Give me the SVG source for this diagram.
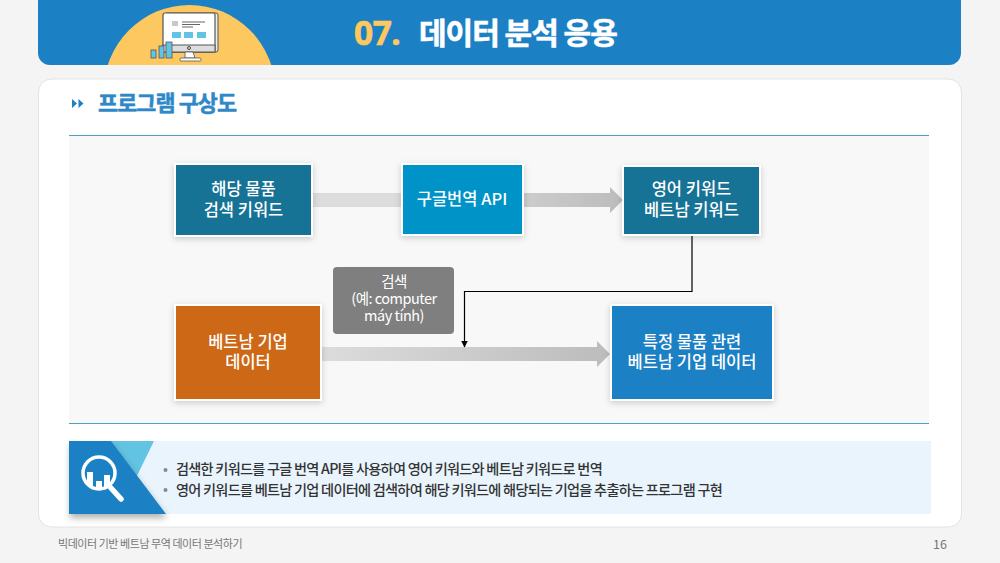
<svg xmlns="http://www.w3.org/2000/svg" width="1000" height="563" viewBox="0 0 1000 563">
<defs>
<linearGradient id="ar1" x1="0" y1="0" x2="1" y2="0"><stop offset="0" stop-color="#cccccc"/><stop offset="1" stop-color="#bcbcbc"/></linearGradient>
<linearGradient id="ar2" x1="0" y1="0" x2="1" y2="0"><stop offset="0" stop-color="#dcdcdc"/><stop offset="1" stop-color="#bcbcbc"/></linearGradient>
<filter id="sh" x="-20%" y="-20%" width="140%" height="140%"><feDropShadow dx="0" dy="2" stdDeviation="3" flood-color="#000" flood-opacity="0.18"/></filter>
<filter id="sh2" x="-20%" y="-20%" width="140%" height="140%"><feDropShadow dx="1" dy="4" stdDeviation="3" flood-color="#000" flood-opacity="0.3"/></filter>
<clipPath id="hd"><rect x="38" y="0" width="923" height="65"/></clipPath>
<clipPath id="lens"><circle cx="99" cy="473" r="15"/></clipPath>
<marker id="tip" markerWidth="8" markerHeight="8" refX="6.500" refY="3.500" orient="auto" markerUnits="userSpaceOnUse"><path d="M0 0L7 3.500L0 7Z" fill="#000"/></marker>
</defs>
<style>
text{font-family:"Noto Sans CJK KR","Noto Sans",sans-serif}
.n{fill:#fff;font-size:16.500px;font-weight:500;text-anchor:middle}
.b{stroke:#fff;stroke-width:2;filter:url(#sh)}
.t{fill:#333;font-size:14.200px;font-weight:500;letter-spacing:-.75px}
</style>
<rect width="1000" height="563" fill="#f4f4f4"/>
<path d="M38 0H961V53a12 12 0 0 1-12 12H50a12 12 0 0 1-12-12Z" fill="#1c80c4"/>
<g id="badge" clip-path="url(#hd)">
<ellipse cx="189.500" cy="92" rx="86" ry="87" fill="#fdc85f"/>
<rect x="165" y="13" width="53" height="39" rx="2" fill="#eee" stroke="#555" stroke-width="1"/>
<rect x="163" y="13" width="52" height="39" rx="2" fill="#fff" stroke="#555" stroke-width="1.200"/>
<rect x="163" y="45" width="52" height="7" fill="#ddd" stroke="#555" stroke-width="1"/>
<rect x="172" y="21" width="6" height="5" fill="#c8c8c8"/>
<path d="M182 22H205M182 24.500H200M182 27H193" stroke="#666" stroke-width="1"/>
<path d="M172 32h9v6h-9zM184 32h9v6h-9zM197 32h9v6h-9z" fill="#63c3e2"/>
<circle cx="189" cy="48" r="1.500" fill="none" stroke="#444"/>
<path d="M185 52h8l2 6h-10Z" fill="#fff" stroke="#555" stroke-width=".8"/>
<rect x="180" y="58" width="21" height="3" rx="1" fill="#fff" stroke="#555" stroke-width=".8"/>
<rect x="151" y="50" width="5" height="8" fill="#63c3e2" stroke="#555" stroke-width=".8"/>
<rect x="159" y="46" width="5" height="12" fill="#63c3e2" stroke="#555" stroke-width=".8"/>
<rect x="166" y="42" width="6" height="16" fill="#63c3e2" stroke="#555" stroke-width=".8"/>
</g>
<text x="354" y="45" font-size="33.500" font-weight="700" fill="#fdc85f" stroke="#fdc85f" stroke-width=".6" style="font-family:'Noto Sans','Noto Sans CJK KR',sans-serif" letter-spacing="-.5">07.</text>
<text x="419" y="44" font-size="30" font-weight="700" fill="#fff" stroke="#fff" stroke-width=".6" letter-spacing="-1">데이터 분석 응용</text>
<rect x="38.500" y="79" width="923" height="448" rx="13" fill="#fff" stroke="#e3e3e3"/>
<path d="M72 99l5 4.500-5 4.500ZM78.500 99l5 4.500-5 4.500Z" fill="#1c80c4"/>
<text x="98" y="111" font-size="21.800" font-weight="700" fill="#2e88c8" stroke="#2e88c8" stroke-width=".5" letter-spacing="-.9">프로그램 구상도</text>
<rect x="69" y="136" width="860" height="288" fill="#f8f8f8"/>
<path d="M69 135.500H929M69 423.500H929" stroke="#4f9fc8" stroke-width="1"/>
<g id="connectors">
<rect x="313" y="193" width="88" height="14" fill="#dcdcdc"/>
<path d="M524 193H610V187L623 200L610 213V207H524Z" fill="url(#ar1)"/>
<path d="M321 347H597V341L610 354L597 367V361H321Z" fill="url(#ar2)"/>
<path d="M692 235V291.500H464.500V347" fill="none" stroke="#000" stroke-width="1.200" marker-end="url(#tip)"/>
</g>
<g id="n1"><rect class="b" x="175" y="164" width="137" height="72" fill="#177396"/><text class="n" y="195"><tspan x="243.500">해당 물품</tspan><tspan x="243.500" dy="21">검색 키워드</tspan></text></g>
<g id="n2"><rect class="b" x="402" y="164" width="121" height="71" fill="#0493c8"/><text class="n" x="462" y="205">구글번역 API</text></g>
<g id="n3"><rect class="b" x="623" y="166" width="137" height="69" fill="#177396"/><text class="n" y="195"><tspan x="691.500">영어 키워드</tspan><tspan x="691.500" dy="21">베트남 키워드</tspan></text></g>
<g id="n4"><rect class="b" x="175" y="305" width="146" height="95" fill="#cd6718"/><text class="n" y="348"><tspan x="248">베트남 기업</tspan><tspan x="248" dy="20">데이터</tspan></text></g>
<g id="n5"><rect class="b" x="611" y="305" width="162" height="95" fill="#1c80c4"/><text class="n" y="348"><tspan x="692">특정 물품 관련</tspan><tspan x="692" dy="20">베트남 기업 데이터</tspan></text></g>
<g id="n6"><rect x="333" y="267" width="121" height="67" rx="4" fill="#7f7f7f"/>
<text fill="#fff" font-size="14.500" text-anchor="middle" letter-spacing="-.5" y="287"><tspan x="394">검색</tspan><tspan x="394" dy="17">(예: computer</tspan><tspan x="394" dy="17">máy tính)</tspan></text></g>
<rect x="69" y="441" width="862" height="73" fill="#e9f4fd"/>
<path d="M110 441H154L133 484Z" fill="#63c3e2"/>
<path d="M69 441H111L166 514H69Z" fill="#1c80c4" filter="url(#sh2)"/>
<g id="magnifier">
<circle cx="99" cy="473" r="16" fill="#1c80c4" stroke="#fff" stroke-width="3.500"/>
<g clip-path="url(#lens)"><path d="M87 472h6v18h-6zM96 481h6v9h-6zM104 475h6v15h-6z" fill="#fff"/></g>
<path d="M111 488L121 499" stroke="#fff" stroke-width="5.500" stroke-linecap="round"/>
</g>
<g id="notes">
<circle cx="165.500" cy="470" r="2" fill="#888"/><circle cx="165.500" cy="490" r="2" fill="#888"/>
<text class="t" x="176" y="474">검색한 키워드를 구글 번역 API를 사용하여 영어 키워드와 베트남 키워드로 번역</text>
<text class="t" x="176" y="495">영어 키워드를 베트남 기업 데이터에 검색하여 해당 키워드에 해당되는 기업을 추출하는 프로그램 구현</text>
</g>
<text x="58" y="548" font-size="11" fill="#777" letter-spacing="-.45">빅데이터 기반 베트남 무역 데이터 분석하기</text>
<text x="947" y="549" font-size="12.500" fill="#777" text-anchor="end">16</text>
</svg>
